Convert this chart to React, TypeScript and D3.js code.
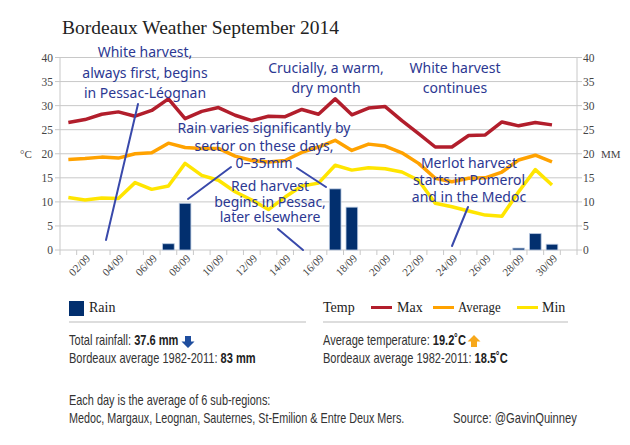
import React from "react";
import * as d3 from "d3";

const days = d3.range(1, 32); // 31 slots, last is empty
const maxTemp = [26.5, 27.1, 28.2, 28.7, 27.8, 29.0, 31.4, 27.3, 28.8, 29.6, 28.0, 26.9, 27.8, 27.7, 29.2, 28.2, 31.4, 28.1, 29.5, 29.8, 26.9, 24.2, 21.4, 21.4, 23.8, 23.9, 26.6, 25.8, 26.5, 26.0];
const avgTemp = [18.8, 19.0, 19.3, 19.1, 20.0, 20.2, 22.2, 21.3, 21.1, 21.1, 19.5, 18.6, 18.3, 18.6, 20.3, 21.4, 22.8, 20.7, 22.0, 21.6, 20.2, 18.0, 14.9, 14.2, 14.9, 15.0, 16.2, 18.7, 19.7, 18.3];
const minTemp = [10.9, 10.4, 10.8, 10.7, 14.0, 12.6, 13.3, 18.0, 15.5, 14.5, 12.1, 10.4, 8.4, 11.0, 13.3, 13.9, 17.6, 16.6, 17.1, 16.9, 16.2, 14.5, 9.7, 9.0, 8.1, 7.25, 7.0, 12.1, 16.7, 13.5];
const rain = [0, 0, 0, 0, 0, 0, 1.3, 9.7, 0, 0, 0, 0, 0, 0, 0, 0, 12.7, 8.9, 0, 0, 0, 0, 0, 0, 0, 0, 0, 0.4, 3.4, 1.2];
const yTicks = [0, 5, 10, 15, 20, 25, 30, 35, 40];
const xLabelDays = d3.range(2, 31, 2);

const annotations = [
  { lines: ["White harvest,", "always first,  begins", "in Pessac-Léognan"], x: 145, y: 57, dy: 20.5 },
  { lines: ["Crucially, a warm,", "dry month"], x: 326, y: 73, dy: 20 },
  { lines: ["White harvest", "continues"], x: 455, y: 73, dy: 20 },
  { lines: ["Rain varies significantly by", "sector on these days,", "0–35mm"], x: 264, y: 133, dy: 17.5 },
  { lines: ["Red harvest", "begins in Pessac,", "later elsewhere"], x: 270, y: 191, dy: 15.5 },
  { lines: ["Merlot harvest", "starts in Pomerol", "and in the Medoc"], x: 469, y: 168, dy: 17 },
];
const annoLines = [
  [[106, 240], [138, 104]],
  [[188, 199], [231, 167]],
  [[297, 168], [326, 187]],
  [[278, 229], [303, 250]],
  [[452, 246], [468, 207]],
];

const RED = "#b21e2c";
const ORANGE = "#ffa200";
const YELLOW = "#ffe500";
const NAVY = "#022f6e";
const INK = "#2c3892";
const GRID = "#c8c8c8";

export default function App() {
  const W = 630, H = 445;
  const left = 60, right = 577, top = 57.5, bottom = 250;
  const x = d3.scaleBand<number>().domain(days).range([left, right]).paddingInner(0.3).paddingOuter(0.15);
  const step = x.step();
  const cx = (d: number) => (x(d) as number) + x.bandwidth() / 2;
  const y = d3.scaleLinear().domain([0, 40]).range([bottom, top]);
  const yR = d3.scaleLinear().domain([0, 40]).range([bottom, top]);
  const line = d3.line<number>().x((_, i) => cx(i + 1)).y((v) => y(v)).curve(d3.curveLinear);
  const serif = "'Liberation Serif', 'DejaVu Serif', serif";
  const narrow = "'Liberation Sans', Arial, sans-serif";
  const hand = "'Noto Sans', sans-serif";
  const sq = (x0: number, s: number) => `translate(${x0},0) scale(${s},1) translate(${-x0},0)`;

  return (
    <svg width={W} height={H} style={{ position: "absolute", left: 0, top: 0, background: "#fff" }}>
      <text x={62} y={34} fontFamily={serif} fontSize={19.5} fill="#222">Bordeaux Weather September 2014</text>

      {/* grid */}
      {yTicks.map((t) => (
        <line key={"g" + t} x1={left - 5} x2={right + 5} y1={y(t)} y2={y(t)} stroke={GRID} strokeWidth={1} />
      ))}
      <line x1={left} x2={left} y1={top} y2={bottom} stroke={GRID} />
      <line x1={right} x2={right} y1={top} y2={bottom} stroke={GRID} />
      {days.concat([32]).map((d, i) => (
        <line key={"xt" + i} x1={left + i * step} x2={left + i * step} y1={bottom} y2={bottom + 5} stroke={GRID} />
      ))}
      {yTicks.map((t) => (
        <text key={"yl" + t} x={left - 7} y={y(t) + 4} textAnchor="end" fontFamily={serif} fontSize={11.5} fill="#444">{t}</text>
      ))}
      {yTicks.map((t) => (
        <text key={"yr" + t} x={right + 6} y={yR(t) + 4} textAnchor="start" fontFamily={serif} fontSize={11.5} fill="#444">{t}</text>
      ))}
      <text x={20} y={158} fontFamily={serif} fontSize={11} fill="#444">°C</text>
      <text x={601} y={158} fontFamily={serif} fontSize={11} fill="#444">MM</text>
      {xLabelDays.map((d) => (
        <text key={"xl" + d} transform={`translate(${cx(d) + 6},${bottom + 9}) rotate(-45)`} textAnchor="end" fontFamily={serif} fontSize={11} fill="#444">
          {String(d).padStart(2, "0") + "/09"}
        </text>
      ))}

      {/* rain bars */}
      {rain.map((v, i) =>
        v > 0 ? (
          <rect key={"b" + i} x={x(i + 1)} y={yR(v)} width={x.bandwidth()} height={bottom - yR(v)} fill={NAVY} stroke="#b8c8e0" strokeWidth={0.8} />
        ) : null
      )}

      {/* lines */}
      <path d={line(maxTemp) as string} fill="none" stroke={RED} strokeWidth={3.5} strokeLinejoin="round" />
      <path d={line(avgTemp) as string} fill="none" stroke={ORANGE} strokeWidth={3.5} strokeLinejoin="round" />
      <path d={line(minTemp) as string} fill="none" stroke={YELLOW} strokeWidth={3.5} strokeLinejoin="round" />

      {/* annotations */}
      {annoLines.map((l, i) => (
        <line key={"al" + i} x1={l[0][0]} y1={l[0][1]} x2={l[1][0]} y2={l[1][1]} stroke="#3949ab" strokeWidth={2} strokeLinecap="round" />
      ))}
      {annotations.map((a, i) => (
        <text key={"a" + i} fontFamily={hand} fontSize={14} fill={INK} textAnchor="middle">
          {a.lines.map((s, j) => (
            <tspan key={j} x={a.x} y={a.y + j * a.dy}>{s}</tspan>
          ))}
        </text>
      ))}

      {/* legend */}
      <rect x={69} y={301} width={15} height={15} fill={NAVY} />
      <text x={89} y={312} fontFamily={serif} fontSize={14} fill="#222">Rain</text>
      <line x1={69} x2={306} y1={322} y2={322} stroke="#bbb" />
      <text x={323} y={312} fontFamily={serif} fontSize={14} fill="#222">Temp</text>
      <line x1={371} x2={392} y1={307.5} y2={307.5} stroke={RED} strokeWidth={3} />
      <text x={397} y={312} fontFamily={serif} fontSize={14} fill="#222">Max</text>
      <line x1={433} x2={454} y1={307.5} y2={307.5} stroke={ORANGE} strokeWidth={3} />
      <text x={458} y={312} fontFamily={serif} fontSize={14} fill="#222" transform={sq(458, 0.92)}>Average</text>
      <line x1={517} x2={538} y1={307.5} y2={307.5} stroke={YELLOW} strokeWidth={3} />
      <text x={542} y={312} fontFamily={serif} fontSize={14} fill="#222">Min</text>
      <line x1={323} x2={568} y1={322} y2={322} stroke="#bbb" />

      <text x={69} y={345} fontFamily={narrow} fontSize={14} fill="#333" transform={sq(69, 0.79)}>
        Total rainfall: <tspan fontWeight="bold" fill="#222">37.6 mm</tspan>
      </text>
      <path d="M185,336 h6 v5.5 h3.5 l-6.5,6.5 l-6.5,-6.5 h3.5 z" fill="#1f4e9e" />
      <text x={69} y={363.5} fontFamily={narrow} fontSize={14} fill="#333" transform={sq(69, 0.79)}>
        Bordeaux average 1982-2011: <tspan fontWeight="bold" fill="#222">83 mm</tspan>
      </text>
      <text x={323} y={345} fontFamily={narrow} fontSize={14} fill="#333" transform={sq(323, 0.79)}>
        Average temperature: <tspan fontWeight="bold" fill="#222">19.2˚C</tspan>
      </text>
      <path d="M471,347 h6 v-5.5 h3.5 l-6.5,-6.5 l-6.5,6.5 h3.5 z" fill="#f7a81b" />
      <text x={323} y={363.5} fontFamily={narrow} fontSize={14} fill="#333" transform={sq(323, 0.79)}>
        Bordeaux average 1982-2011: <tspan fontWeight="bold" fill="#222">18.5˚C</tspan>
      </text>
      <text x={69} y={405} fontFamily={narrow} fontSize={14} fill="#333" transform={sq(69, 0.78)}>
        Each day is the average of 6 sub-regions:
      </text>
      <text x={69} y={423} fontFamily={narrow} fontSize={14} fill="#333" transform={sq(69, 0.77)}>
        Medoc, Margaux, Leognan, Sauternes, St-Emilion &amp; Entre Deux Mers.
      </text>
      <text x={453} y={423} fontFamily={narrow} fontSize={14} fill="#333" transform={sq(453, 0.8)}>
        Source: @GavinQuinney
      </text>
    </svg>
  );
}
